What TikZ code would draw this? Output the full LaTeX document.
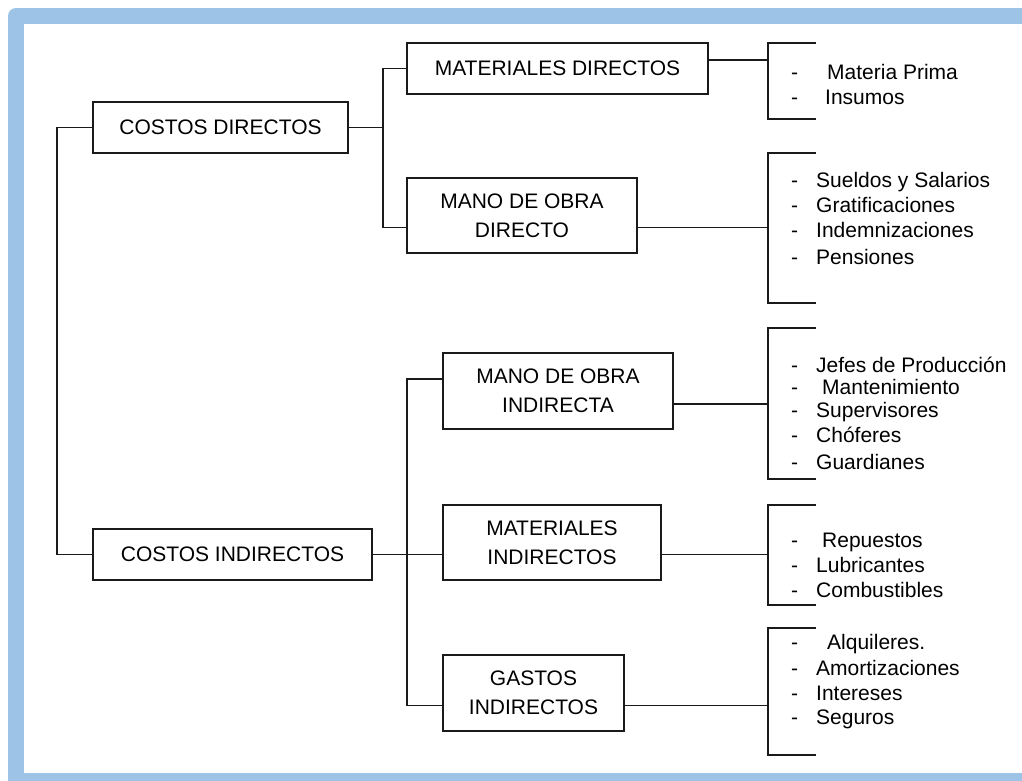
\documentclass[tikz,border=0pt]{standalone}
\usepackage{fontspec}
\setmainfont{Liberation Sans}
\definecolor{frameblue}{HTML}{9DC3E6}
\definecolor{ink}{HTML}{1A1A1A}
% one list entry: a dash, then the text (optionally pushed right)
\newcommand{\itm}[2][0pt]{\makebox[25pt][l]{-}\hspace{#1}#2}

\begin{document}
\begin{tikzpicture}[x=1pt,y=-1pt,
  box/.style={draw=ink, line width=1.8pt, inner sep=0pt, align=center,
    font=\fontsize{21}{29}\selectfont},
  wire/.style={draw=ink, line width=1.8pt},
  item/.style={anchor=base west, inner sep=0pt, font=\fontsize{21}{25}\selectfont},
]
\useasboundingbox (0,0) rectangle (1022,780);

% frame
\fill[frameblue, rounded corners=8pt] (8,8) rectangle (1050,800);
\fill[white] (24,24) rectangle (1040,773);

% boxes
\node[box, minimum width=255pt, minimum height=51pt] (cd)  at (220.5,127.5) {COSTOS DIRECTOS};
\node[box, minimum width=279pt, minimum height=51pt] (ci)  at (232.5,554.5) {COSTOS INDIRECTOS};
\node[box, minimum width=301pt, minimum height=51pt] (md)  at (557.5,68.5)  {MATERIALES DIRECTOS};
\node[box, minimum width=230pt, minimum height=75pt] (mod) at (522,215.5)   {MANO DE OBRA\\DIRECTO};
\node[box, minimum width=230pt, minimum height=76pt] (moi) at (558,391)     {MANO DE OBRA\\INDIRECTA};
\node[box, minimum width=218pt, minimum height=75pt] (mi)  at (552,542.5)   {MATERIALES\\INDIRECTOS};
\node[box, minimum width=181pt, minimum height=76pt] (gi)  at (533.5,693)   {GASTOS\\INDIRECTOS};

% connection points
\coordinate (ja)    at (383,127.5);
\coordinate (jb)    at (407,554.5);
\coordinate (modin) at (407,227.5);
\coordinate (moiin) at (443,379);
\coordinate (miin)  at (443,554.5);
\coordinate (giin)  at (443,705.5);
\coordinate (mdout)  at (708,60);
\coordinate (modout) at (637,227.5);
\coordinate (moiout) at (673,404);
\coordinate (miout)  at (661,554.5);
\coordinate (giout)  at (624,705.5);
\coordinate (b1) at (768,60);
\coordinate (b2) at (768,227.5);
\coordinate (b3) at (768,404);
\coordinate (b4) at (768,554.5);
\coordinate (b5) at (768,705.5);

% tree connectors
\draw[wire] (cd.west) -- ++(-35,0) |- (ci.west);
\draw[wire] (cd.east) -- (ja);
\draw[wire] (md.west) -| (ja) |- (modin);
\draw[wire] (ci.east) -- (miin);
\draw[wire] (moiin) -| (jb) |- (giin);

% connectors to the brackets
\draw[wire] (mdout)  -- (b1);
\draw[wire] (modout) -- (b2);
\draw[wire] (moiout) -- (b3);
\draw[wire] (miout)  -- (b4);
\draw[wire] (giout)  -- (b5);

% brackets
\draw[wire] (816,43)  -| (768,119) -- (816,119);
\draw[wire] (816,153) -| (768,303) -- (816,303);
\draw[wire] (816,328) -| (768,479) -- (816,479);
\draw[wire] (816,505) -| (768,605) -- (816,605);
\draw[wire] (816,628) -| (768,755) -- (816,755);

% lists
\node[item] (l1a) at (791,79)  {\itm[11pt]{Materia Prima}};
\node[item] (l1b) at (791,104) {\itm[9pt]{Insumos}};

\node[item] (l2a) at (791,187) {\itm{Sueldos y Salarios}};
\node[item] (l2b) at (791,212) {\itm{Gratificaciones}};
\node[item] (l2c) at (791,237) {\itm{Indemnizaciones}};
\node[item] (l2d) at (791,264) {\itm{Pensiones}};

\node[item] (l3a) at (791,372) {\itm{Jefes de Producción}};
\node[item] (l3b) at (791,394) {\itm[6pt]{Mantenimiento}};
\node[item] (l3c) at (791,417) {\itm{Supervisores}};
\node[item] (l3d) at (791,442) {\itm{Chóferes}};
\node[item] (l3e) at (791,469) {\itm{Guardianes}};

\node[item] (l4a) at (791,547) {\itm[6pt]{Repuestos}};
\node[item] (l4b) at (791,572) {\itm{Lubricantes}};
\node[item] (l4c) at (791,597) {\itm{Combustibles}};

\node[item] (l5a) at (791,649) {\itm[11pt]{Alquileres.}};
\node[item] (l5b) at (791,675) {\itm{Amortizaciones}};
\node[item] (l5c) at (791,700) {\itm{Intereses}};
\node[item] (l5d) at (791,724) {\itm{Seguros}};
\end{tikzpicture}
\end{document}
